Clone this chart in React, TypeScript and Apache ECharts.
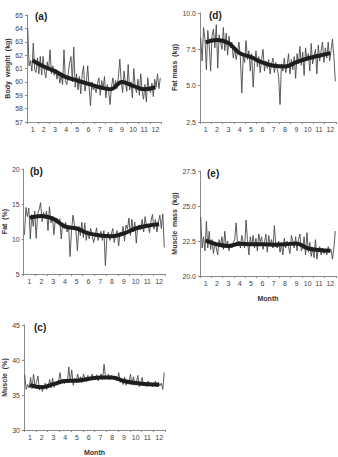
import React, { useEffect, useRef } from "react";
import * as echarts from "echarts";

const months = ["1", "2", "3", "4", "5", "6", "7", "8", "9", "10", "11", "12"];

// daily-ish readings (8 per month)
const bodyWeightRaw = [
  64.0, 61.2, 61.6, 60.8, 62.9, 60.9, 60.7, 61.8,
  60.6, 61.9, 60.5, 61.9, 60.8, 60.3, 61.5, 60.9,
  62.4, 60.6, 61.2, 60.5, 60.9, 60.2, 60.8, 59.9,
  60.5, 59.8, 62.4, 60.1, 59.8, 60.6, 61.4, 61.9,
  60.0, 62.6, 59.6, 60.6, 59.4, 60.4, 59.1, 60.5,
  61.2, 59.3, 59.9, 61.2, 59.6, 58.2, 60.0, 59.4,
  59.6, 59.2, 59.9, 60.3, 59.0, 60.1, 59.5, 60.4,
  58.8, 59.8, 59.3, 58.3, 59.6, 60.3, 59.5, 60.1,
  59.5, 60.4, 61.7, 60.0, 59.2, 60.8, 59.9, 59.3,
  61.3, 59.4, 60.0, 58.8, 61.0, 59.6, 59.2, 60.2,
  59.0, 60.6, 59.3, 58.7, 59.8, 58.5, 60.3, 59.4,
  59.2, 59.9, 58.9, 60.2, 59.6, 60.6, 59.5, 60.3,
];
const bodyWeightTrend = [61.6, 61.15, 60.8, 60.35, 60.1, 59.85, 59.6, 59.45, 60.0, 59.7, 59.45, 59.6];

const fatPctRaw = [
  10.6, 14.5, 13.2, 14.4, 10.0, 13.5, 11.8, 14.0,
  10.1, 13.6, 14.2, 15.2, 12.5, 13.8, 12.9, 14.0,
  11.2, 14.6, 12.3, 13.2, 10.6, 12.8, 13.0, 12.4,
  12.9, 10.0, 12.3, 11.5, 12.4, 11.0, 12.0, 7.5,
  11.2, 13.4, 12.0, 11.2, 8.3, 11.8, 10.5, 12.4,
  10.2, 12.3, 9.8, 11.2, 10.0, 11.5, 10.5, 9.5,
  10.4, 11.6, 9.8, 10.5, 11.1, 9.8, 11.2, 6.2,
  10.2, 11.0, 9.8, 10.6, 11.5, 9.5, 10.5, 11.2,
  9.0, 11.0, 10.5, 11.8, 9.7, 12.0, 11.4, 13.0,
  10.5, 12.8, 11.0, 12.4, 9.4, 11.8, 12.0, 11.3,
  12.8, 11.0, 13.2, 11.6, 12.0, 10.9, 12.6, 13.5,
  11.4, 12.8, 11.0, 12.4, 13.4, 11.5, 13.6, 8.8,
];
const fatPctTrend = [13.05, 13.3, 12.9, 11.8, 11.5, 10.8, 10.5, 10.4, 10.8, 11.5, 11.9, 12.1];

const musclePctRaw = [
  37.9, 35.8, 36.5, 36.0, 37.5, 35.9, 38.0, 36.2,
  36.8, 37.7, 35.7, 36.4, 35.5, 36.2, 36.7, 35.8,
  36.3, 37.2, 36.0, 37.4, 36.1, 36.8, 36.4, 36.9,
  38.2, 36.8, 37.2, 36.6, 37.0, 36.8, 39.0, 36.9,
  38.6, 36.4, 37.4, 36.8, 38.0, 37.0, 37.6, 36.8,
  38.0, 37.4, 36.9, 37.8, 37.2, 37.5, 38.0, 37.2,
  37.3, 37.9, 37.0, 37.5, 38.0, 37.2, 39.4, 37.6,
  37.3, 38.0, 37.2, 37.8, 37.4, 37.3, 37.6, 37.0,
  38.2, 36.8, 37.3, 36.5, 37.6, 36.4, 37.1, 36.7,
  38.0, 36.5, 37.6, 36.4, 36.8, 37.8, 36.2, 36.8,
  37.5, 36.3, 36.8, 36.2, 37.0, 36.3, 36.6, 36.2,
  36.5, 37.0, 36.2, 36.8, 36.3, 36.7, 35.8, 38.2,
];
const musclePctTrend = [36.4, 36.1, 36.55, 37.0, 37.05, 37.3, 37.5, 37.5, 37.0, 36.7, 36.55, 36.45];

const fatMassRaw = [
  8.3, 6.7, 9.0, 8.2, 6.1, 8.8, 7.8, 6.0,
  8.4, 8.9, 7.6, 9.2, 6.2, 8.5, 8.0, 7.5,
  9.0, 7.4, 8.6, 7.1, 8.4, 7.6, 8.0, 6.9,
  7.6, 6.8, 7.3, 8.0, 6.9, 4.5, 7.0, 6.6,
  8.1, 6.8, 7.4, 6.0, 7.2, 4.9, 6.5, 7.4,
  6.3, 7.0, 5.9, 6.8, 7.5, 6.0, 6.7, 6.2,
  6.8, 5.8, 6.5, 6.9, 5.9, 6.6, 6.2, 5.6,
  3.7, 6.5, 6.0, 6.9, 5.9, 6.4, 7.2, 5.8,
  6.8, 6.1, 7.0, 5.5, 7.2, 6.5, 7.7, 6.4,
  7.3, 5.7, 7.6, 6.8, 7.2, 6.0, 7.9, 6.5,
  7.0, 7.5, 5.8, 7.8, 6.7, 7.4, 8.0, 6.6,
  7.6, 6.9, 8.0, 6.7, 7.4, 8.2, 7.0, 5.3,
];
const fatMassTrend = [7.98, 8.14, 7.93, 7.24, 6.96, 6.6, 6.37, 6.32, 6.62, 6.87, 7.06, 7.24];

const muscleMassRaw = [
  24.2, 22.0, 22.8, 21.8, 23.9, 22.0, 23.2, 21.9,
  22.6, 21.6, 22.4, 22.0, 21.5, 22.6, 22.2, 22.8,
  21.9, 23.2, 22.1, 22.5, 21.8, 22.3, 22.0, 22.4,
  22.6, 23.8, 22.3, 22.5, 22.0, 22.9, 22.4, 22.0,
  24.0, 22.6, 21.5, 22.8, 22.2, 22.9, 22.0, 22.7,
  21.8, 23.0, 22.4, 22.8, 21.9, 22.4, 23.0, 21.7,
  22.9, 22.2, 22.6, 22.0, 23.6, 22.2, 22.0, 22.5,
  21.7, 22.3, 21.5, 22.7, 22.0, 22.5, 22.1, 21.6,
  22.9, 22.5, 22.0, 22.8, 21.8, 22.6, 23.0, 21.8,
  22.0, 22.8, 21.5, 23.1, 21.7, 22.4, 21.4, 22.0,
  21.3, 22.6, 21.2, 21.9, 22.1, 21.5, 22.0, 21.6,
  21.9, 21.5, 22.1, 21.7, 21.9, 21.2, 22.0, 23.2,
];
const muscleMassTrend = [22.52, 22.26, 22.14, 22.31, 22.26, 22.26, 22.24, 22.26, 22.33, 21.98, 21.86, 21.81];

const FONT = "Liberation Sans, Arial, sans-serif";

type Panel = {
  label: string;
  yName: string;
  raw: number[];
  trend: number[];
  min: number;
  max: number;
  interval: number;
  decimals: number;
  grid: { left: number; top: number; width: number; height: number };
  showMonth: boolean;
  nameGap: number;
  labelPos: [number, number];
};

const panels: Panel[] = [
  { label: "(a)", yName: "Body  weight  (kg)", raw: bodyWeightRaw, trend: bodyWeightTrend, min: 57, max: 65, interval: 1, decimals: 0,
    grid: { left: 27, top: 15, width: 134, height: 107 }, showMonth: false, nameGap: 15, labelPos: [35, 11] },
  { label: "(b)", yName: "Fat  (%)", raw: fatPctRaw, trend: fatPctTrend, min: 5, max: 20, interval: 5, decimals: 0,
    grid: { left: 23, top: 169, width: 142, height: 105 }, showMonth: false, nameGap: 13, labelPos: [30, 166] },
  { label: "(c)", yName: "Muscle  (%)", raw: musclePctRaw, trend: musclePctTrend, min: 30, max: 45, interval: 5, decimals: 0,
    grid: { left: 24, top: 325, width: 141, height: 108 }, showMonth: true, nameGap: 14, labelPos: [34, 322] },
  { label: "(d)", yName: "Fat mass  (kg)", raw: fatMassRaw, trend: fatMassTrend, min: 2.5, max: 10, interval: 2.5, decimals: 1,
    grid: { left: 200, top: 13, width: 136, height: 109 }, showMonth: false, nameGap: 20, labelPos: [209, 10] },
  { label: "(e)", yName: "Muscle  mass  (kg)", raw: muscleMassRaw, trend: muscleMassTrend, min: 20, max: 27.5, interval: 2.5, decimals: 1,
    grid: { left: 200, top: 171, width: 136, height: 105 }, showMonth: true, nameGap: 20, labelPos: [207, 168] },
];

export default function App() {
  const ref = useRef<HTMLDivElement>(null);
  useEffect(() => {
    if (!ref.current) return;
    const chart = echarts.init(ref.current, undefined, { renderer: "svg" });
    const grids: any[] = [];
    const xAxes: any[] = [];
    const yAxes: any[] = [];
    const series: any[] = [];
    const graphics: any[] = [];
    panels.forEach((p, i) => {
      grids.push({ ...p.grid });
      xAxes.push({
        type: "value", gridIndex: i, min: 0, max: 12, show: false,
      });
      xAxes.push({
        type: "category", gridIndex: i, data: months, boundaryGap: true, position: "bottom",
        axisLine: { lineStyle: { color: "#8a8a8a", width: 1 } },
        axisTick: { show: true, length: 2, interval: 0, lineStyle: { color: "#8a8a8a" } },
        axisLabel: { interval: 0, fontSize: 7, color: "#444", margin: 4, fontFamily: FONT },
        name: p.showMonth ? "Month" : "",
        nameLocation: "middle", nameGap: 19,
        nameTextStyle: { fontSize: 7, fontWeight: "bold", color: "#333", fontFamily: FONT },
        splitLine: { show: false },
      });
      yAxes.push({
        type: "value", gridIndex: i, min: p.min, max: p.max, interval: p.interval,
        axisLine: { show: true, lineStyle: { color: "#8a8a8a", width: 1 } },
        axisTick: { show: true, length: 2, lineStyle: { color: "#8a8a8a" } },
        axisLabel: { fontSize: 7, color: "#444", margin: 4, fontFamily: FONT,
          formatter: (v: number) => v.toFixed(p.decimals) },
        splitLine: { show: false },
        name: p.yName, nameLocation: "middle", nameRotate: 90, nameGap: p.nameGap,
        nameTextStyle: { fontSize: 7, fontWeight: "bold", color: "#333", fontFamily: FONT },
      });
      series.push({
        type: "line", xAxisIndex: i * 2, yAxisIndex: i, symbol: "none",
        data: p.raw.map((v, j) => [(j + 0.5) / 8, v]),
        lineStyle: { color: "#4a4a4a", width: 0.9 },
      });
      series.push({
        type: "line", xAxisIndex: i * 2, yAxisIndex: i, symbol: "none", smooth: 0.4,
        data: p.trend.map((v, j) => [j + 0.5, v]),
        lineStyle: { color: "#1e1e1e", width: 4 },
      });
      graphics.push({
        type: "text", left: p.labelPos[0], top: p.labelPos[1],
        style: { text: p.label, font: `bold 10px ${FONT}`, fill: "#222" },
      });
    });
    chart.setOption({
      animation: false,
      backgroundColor: "#fff",
      grid: grids,
      xAxis: xAxes,
      yAxis: yAxes,
      series,
      graphic: graphics,
    });
    return () => chart.dispose();
  }, []);
  return <div ref={ref} style={{ width: 338, height: 457, position: "absolute", left: 0, top: 0 }} />;
}
